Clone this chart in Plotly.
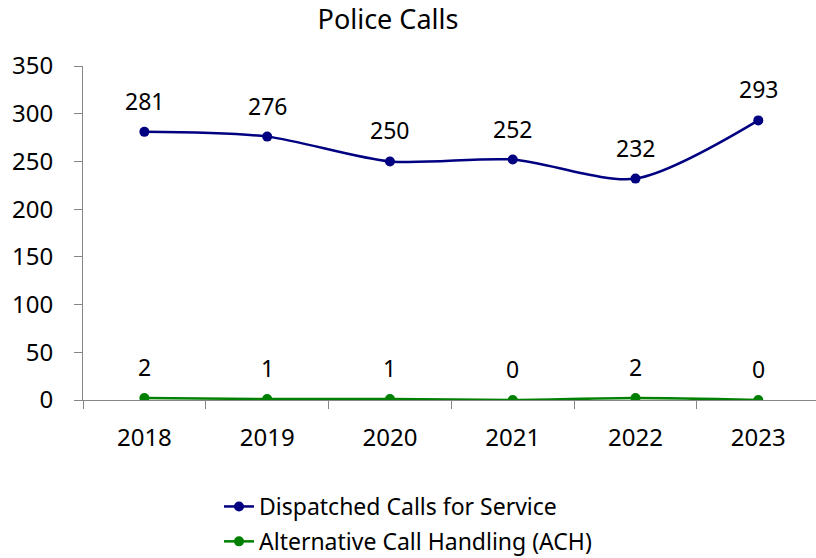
import plotly.graph_objects as go

years = ["2018", "2019", "2020", "2021", "2022", "2023"]
dispatched = [281, 276, 250, 252, 232, 293]
ach = [2, 1, 1, 0, 2, 0]
y_ticks = [0, 50, 100, 150, 200, 250, 300, 350]

FONT = "Noto Sans, Open Sans, sans-serif"
NAVY = "#000080"
GREEN = "#008000"
AXIS = "#868686"

W, H = 816, 558
ML, MT, MB, MR = 83, 66, 158, 0
PW, PH = W - ML - MR, H - MT - MB

fig = go.Figure()
fig.add_trace(go.Scatter(
    x=years, y=dispatched, name="Dispatched Calls for Service", legendgroup="a",
    mode="lines+markers", line=dict(color=NAVY, width=2.5, shape="spline", smoothing=0.8),
    marker=dict(color=NAVY, size=10),
))
fig.add_trace(go.Scatter(
    x=years, y=ach, name="Alternative Call Handling (ACH)", legendgroup="b",
    mode="lines+markers", line=dict(color=GREEN, width=2.5, shape="spline", smoothing=0.8),
    marker=dict(color=GREEN, size=10),
))

for series in (dispatched, ach):
    for i, yv in enumerate(series):
        fig.add_annotation(x=i, y=yv, xref="x", yref="y", text=str(yv), showarrow=False,
                           yshift=31, font=dict(family=FONT, size=23, color="#000000"))

fig.update_layout(
    width=W, height=H,
    margin=dict(l=ML, r=MR, t=MT, b=MB, autoexpand=False),
    paper_bgcolor="white", plot_bgcolor="white",
    font=dict(family=FONT, size=23, color="#000000"),
    title=dict(text="Police Calls", x=388 / W, xanchor="center", y=1 - 20 / H, yanchor="middle",
               font=dict(family=FONT, size=27, color="#000000")),
    showlegend=True,
    legend=dict(orientation="v", x=(219 - ML) / PW, xanchor="left",
                y=-(485 - (MT + PH)) / PH, yanchor="top", traceorder="grouped",
                font=dict(family=FONT, size=23, color="#000000"), tracegroupgap=2,
                bgcolor="rgba(0,0,0,0)"),
)
fig.update_xaxes(
    type="category", range=[-0.5, 5.47], tickson="boundaries",
    ticks="outside", ticklen=8, tickcolor=AXIS, ticklabelstandoff=16,
    showline=True, linecolor=AXIS, linewidth=1, showgrid=False, zeroline=False,
    tickfont=dict(family=FONT, size=24),
)
fig.update_yaxes(
    range=[0, 350], tickvals=y_ticks, ticks="outside", ticklen=8, tickcolor=AXIS,
    ticklabelstandoff=16,
    showline=True, linecolor=AXIS, linewidth=1, showgrid=False, zeroline=False,
    tickfont=dict(family=FONT, size=24),
)

fig.write_html(
    "out.html",
    config={"displayModeBar": False},
    post_script="document.body.style.margin='0';document.body.style.overflow='hidden';",
)
